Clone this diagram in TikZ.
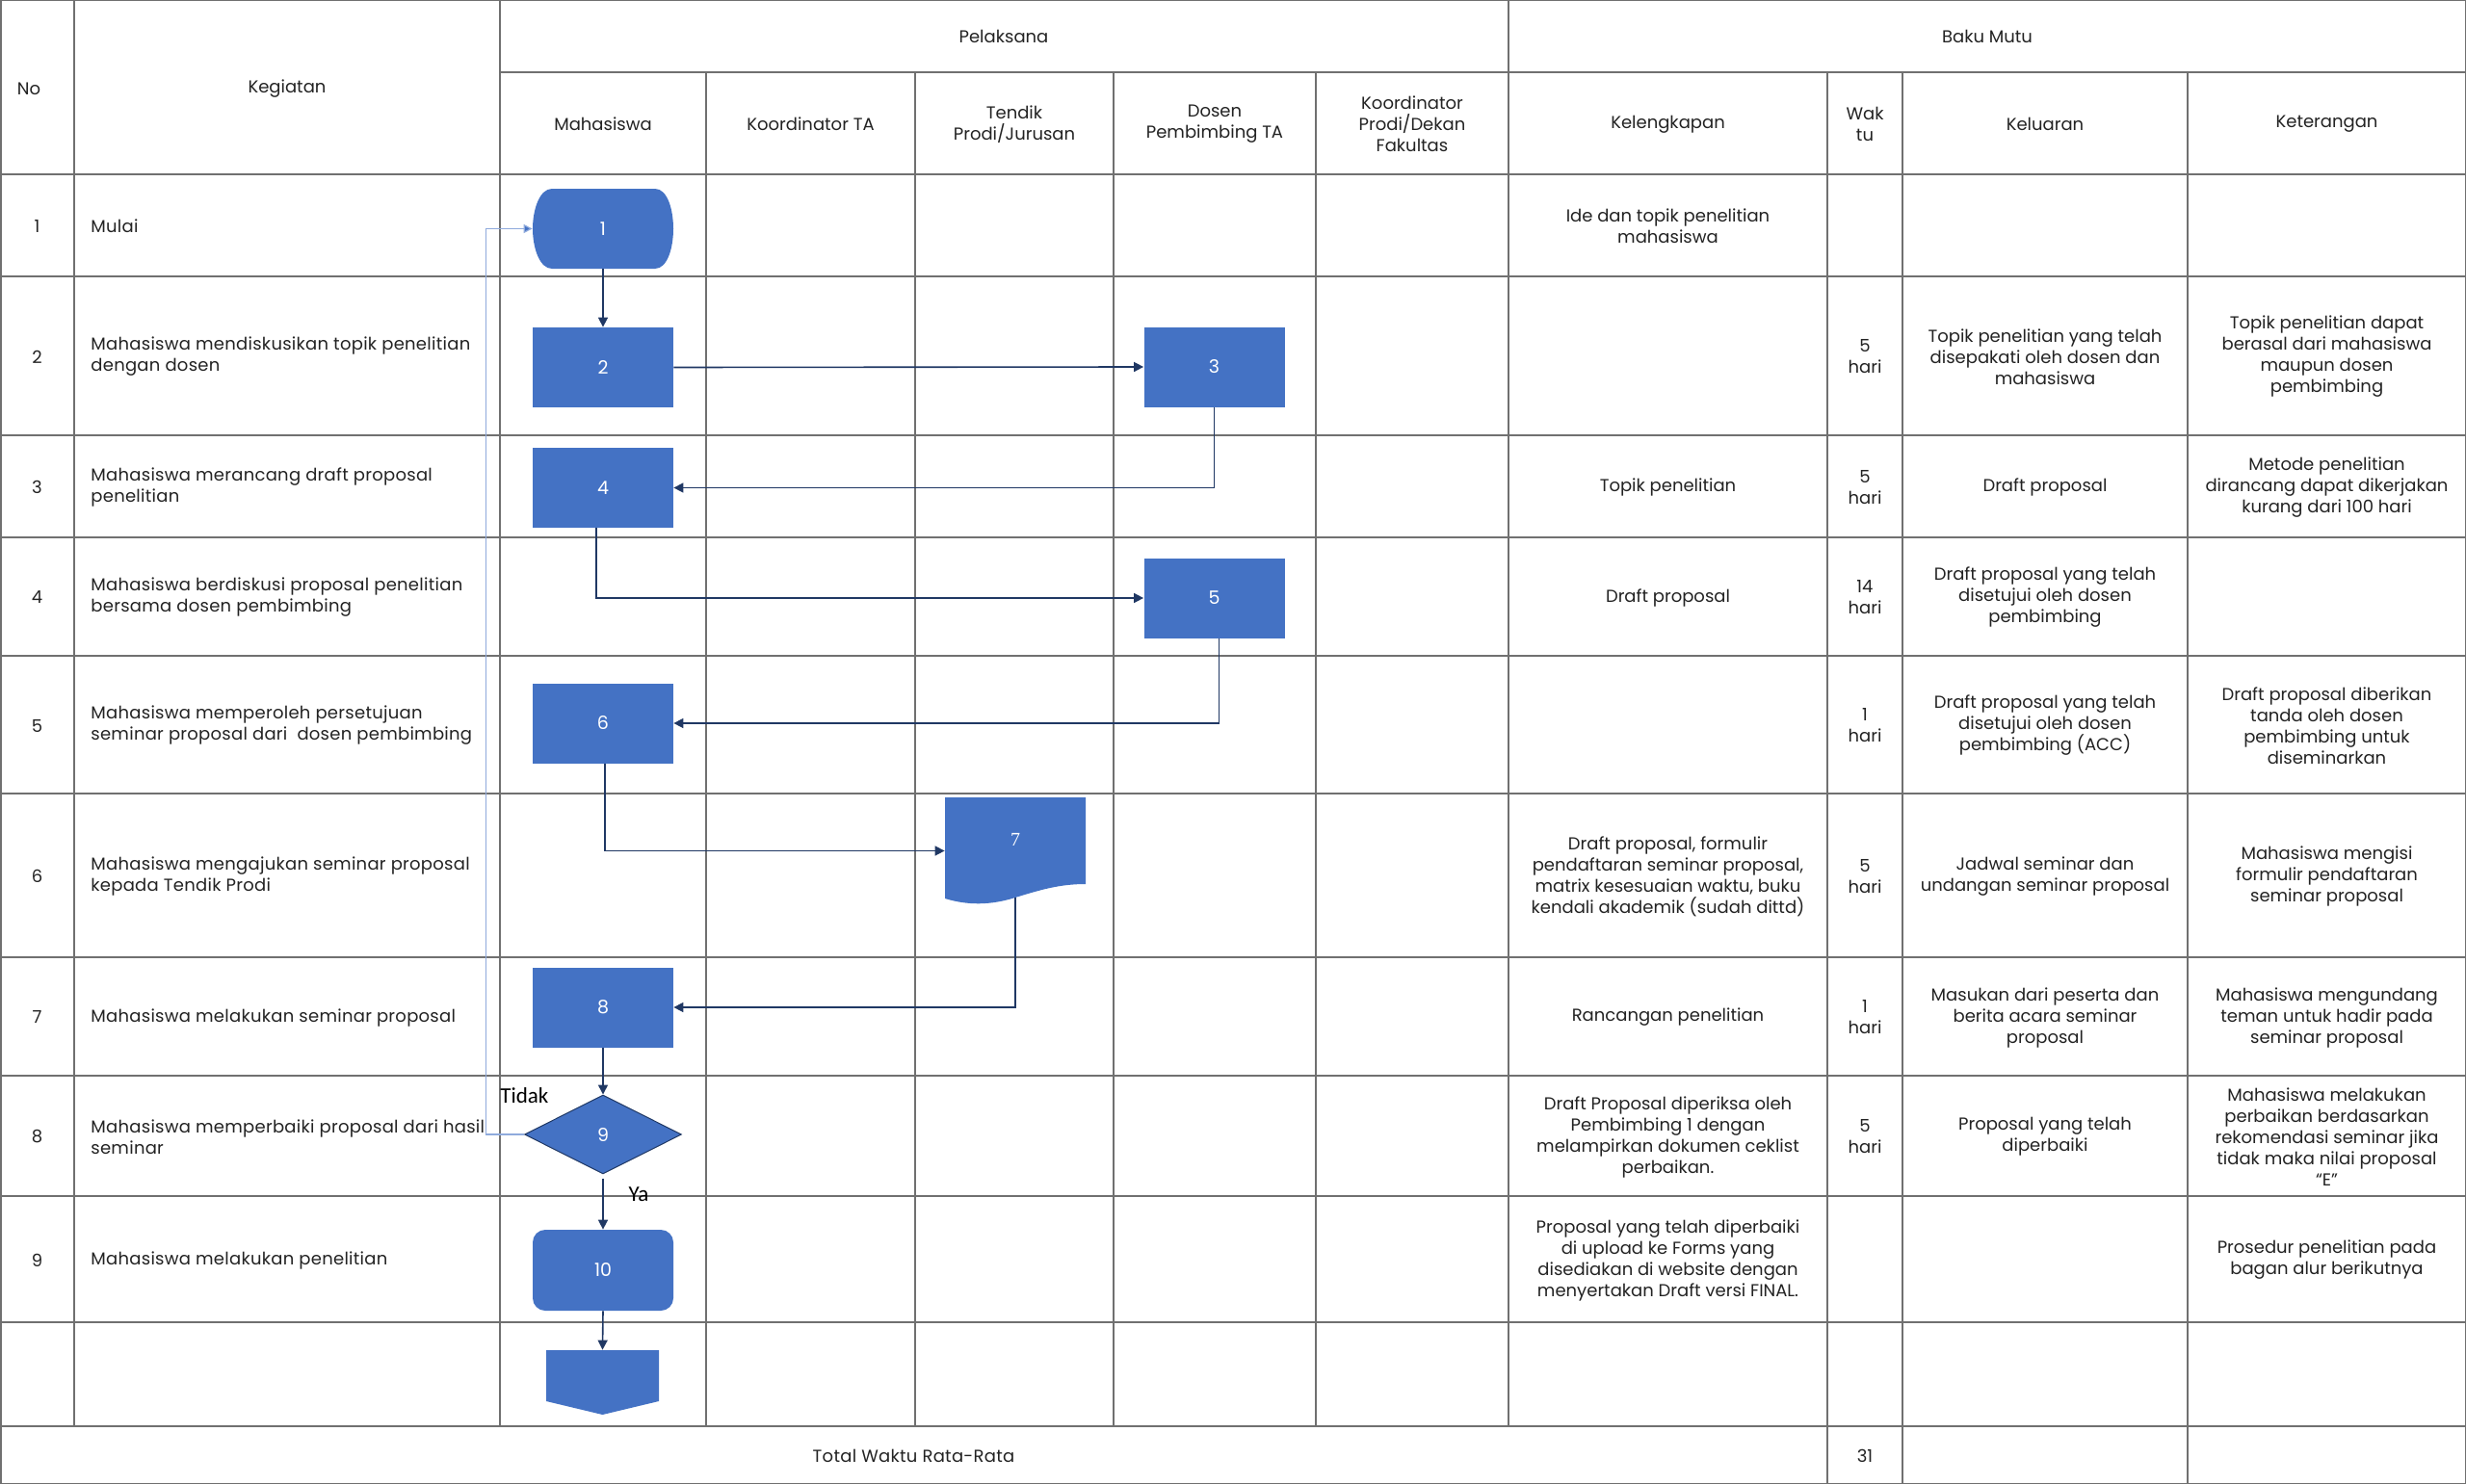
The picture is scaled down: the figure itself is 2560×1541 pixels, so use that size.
\documentclass[tikz,border=0pt]{standalone}
\usepackage{fontspec}
\setmainfont{Poppins}
\newfontfamily\kegfont{Poppins}[LetterSpace=1.5]
\newfontfamily\calfont{Carlito}
\newfontfamily\serfont{Liberation Serif}
\usetikzlibrary{arrows.meta,shapes.geometric}
\definecolor{gridc}{RGB}{112,112,112}
\definecolor{shp}{RGB}{68,114,196}
\definecolor{navy}{RGB}{32,56,100}
\definecolor{lblue}{RGB}{143,170,220}
\definecolor{txt}{RGB}{35,35,35}
\begin{document}
\begin{tikzpicture}[x=0.5pt,y=-0.5pt,
  cell/.style={align=center,inner sep=0pt,text=txt,font=\fontsize{9}{11}\selectfont},
  keg/.style={anchor=west,align=left,inner sep=0pt,text=txt,font=\kegfont\fontsize{9}{11}\selectfont},
  proc/.style={rectangle,fill=shp,minimum width=73pt,minimum height=41.5pt,inner sep=0pt,text=white,font=\fontsize{9.5}{11}\selectfont},
  ghost/.style={rectangle,minimum width=73pt,minimum height=41.5pt,inner sep=0pt,text=white,font=\fontsize{9.5}{11}\selectfont},
  link/.style={draw=navy,line width=0.8pt,-{Triangle[length=5pt,width=5pt]}},
  gridline/.style={draw=gridc,line width=1pt}]
\useasboundingbox (0,0) rectangle (2560,1541);
\fill[white] (0,0) rectangle (2560,1541);
% ---------- table grid ----------
\foreach \yy in {181,287,452,558,681,824,994,1117,1242,1373,1481}
  \draw[gridline] (0,\yy) -- (2560,\yy);
\draw[gridline] (519,75) -- (2560,75);
\draw[gridline] (0,0.5) -- (2560,0.5);
\draw[gridline] (0,1540.5) -- (2560,1540.5);
\draw[gridline] (0.5,0) -- (0.5,1541);
\draw[gridline] (2559.5,0) -- (2559.5,1541);
\foreach \xx in {77,519,1566}
  \draw[gridline] (\xx,0) -- (\xx,1481);
\foreach \xx in {733,950,1156,1366}
  \draw[gridline] (\xx,75) -- (\xx,1481);
\foreach \xx in {1897,1975,2271}
  \draw[gridline] (\xx,75) -- (\xx,1541);
% ---------- headers ----------
\node[cell] (hno) at (30,92) {No};
\node[cell] (hkeg) at (298,92) {Kegiatan};
\node[cell] (hpel) at (1042,38) {Pelaksana};
\node[cell] (hbaku) at (2063,38) {Baku Mutu};
\node[cell] (hmhs) at (626,129) {Mahasiswa};
\node[cell] (hkta) at (841.5,129) {Koordinator TA};
\node[cell] (htendik) at (1053,129) {Tendik\\Prodi/Jurusan};
\node[cell] (hdosen) at (1261,129) {Dosen\\Pembimbing TA};
\node[cell] (hkpd) at (1466,129) {Koordinator\\Prodi/Dekan\\Fakultas};
\node[cell] (hkel) at (1731.5,129) {Kelengkapan};
\node[cell] (hwak) at (1936,129) {Wak\\tu};
\node[cell] (hklr) at (2123,129) {Keluaran};
\node[cell] (hket) at (2415.5,129) {Keterangan};
% ---------- row numbers ----------
\foreach \n/\yy in {1/235,2/370.5,3/506,4/620.5,5/753.5,6/910,7/1056.5,8/1180.5,9/1308.5}
  \node[cell] (no\n) at (38.5,\yy) {\n};
% ---------- kegiatan ----------
\node[keg] (k1) at (94,235) {Mulai};
\node[keg] (k2) at (94,370.5) {Mahasiswa mendiskusikan topik penelitian\\dengan dosen};
\node[keg] (k3) at (94,506) {Mahasiswa merancang draft proposal\\penelitian};
\node[keg] (k4) at (94,620.5) {Mahasiswa berdiskusi proposal penelitian\\bersama dosen pembimbing};
\node[keg] (k5) at (94,753.5) {Mahasiswa memperoleh persetujuan\\seminar proposal dari\ \ dosen pembimbing};
\node[keg] (k6) at (94,910) {Mahasiswa mengajukan seminar proposal\\kepada Tendik Prodi};
\node[keg] (k7) at (94,1056.5) {Mahasiswa melakukan seminar proposal};
\node[keg] (k8) at (94,1180.5) {Mahasiswa memperbaiki proposal dari hasil\\seminar};
\node[keg] (k9) at (94,1308.5) {Mahasiswa melakukan penelitian};
\node[cell,font=\kegfont\fontsize{9}{11}\selectfont] (tot) at (948.5,1512) {Total Waktu Rata-Rata};
\node[cell] (tot31) at (1936,1512) {31};
% ---------- kelengkapan ----------
\node[cell] (kl1) at (1731.5,235) {Ide dan topik penelitian\\mahasiswa};
\node[cell] (kl3) at (1731.5,506) {Topik penelitian};
\node[cell] (kl4) at (1731.5,620.5) {Draft proposal};
\node[cell] (kl6) at (1731.5,910) {Draft proposal, formulir\\pendaftaran seminar proposal,\\matrix kesesuaian waktu, buku\\kendali akademik (sudah dittd)};
\node[cell] (kl7) at (1731.5,1056.5) {Rancangan penelitian};
\node[cell] (kl8) at (1731.5,1180.5) {Draft Proposal diperiksa oleh\\Pembimbing 1 dengan\\melampirkan dokumen ceklist\\perbaikan.};
\node[cell] (kl9) at (1731.5,1308.5) {Proposal yang telah diperbaiki\\di upload ke Forms yang\\disediakan di website dengan\\menyertakan Draft versi FINAL.};
% ---------- waktu ----------
\node[cell] (w2) at (1936,370.5) {5\\hari};
\node[cell] (w3) at (1936,506) {5\\hari};
\node[cell] (w4) at (1936,620.5) {14\\hari};
\node[cell] (w5) at (1936,753.5) {1\\hari};
\node[cell] (w6) at (1936,910) {5\\hari};
\node[cell] (w7) at (1936,1056.5) {1\\hari};
\node[cell] (w8) at (1936,1180.5) {5\\hari};
% ---------- keluaran ----------
\node[cell] (o2) at (2123,370.5) {Topik penelitian yang telah\\disepakati oleh dosen dan\\mahasiswa};
\node[cell] (o3) at (2123,506) {Draft proposal};
\node[cell] (o4) at (2123,620.5) {Draft proposal yang telah\\disetujui oleh dosen\\pembimbing};
\node[cell] (o5) at (2123,753.5) {Draft proposal yang telah\\disetujui oleh dosen\\pembimbing (ACC)};
\node[cell] (o6) at (2123,910) {Jadwal seminar dan\\undangan seminar proposal};
\node[cell] (o7) at (2123,1056.5) {Masukan dari peserta dan\\berita acara seminar\\proposal};
\node[cell] (o8) at (2123,1180.5) {Proposal yang telah\\diperbaiki};
% ---------- keterangan ----------
\node[cell] (t2) at (2415.5,370.5) {Topik penelitian dapat\\berasal dari mahasiswa\\maupun dosen\\pembimbing};
\node[cell] (t3) at (2415.5,506) {Metode penelitian\\dirancang dapat dikerjakan\\kurang dari 100 hari};
\node[cell] (t5) at (2415.5,753.5) {Draft proposal diberikan\\tanda oleh dosen\\pembimbing untuk\\diseminarkan};
\node[cell] (t6) at (2415.5,910) {Mahasiswa mengisi\\formulir pendaftaran\\seminar proposal};
\node[cell] (t7) at (2415.5,1056.5) {Mahasiswa mengundang\\teman untuk hadir pada\\seminar proposal};
\node[cell] (t8) at (2415.5,1180.5) {Mahasiswa melakukan\\perbaikan berdasarkan\\rekomendasi seminar jika\\tidak maka nilai proposal\\“E”};
\node[cell] (t9) at (2415.5,1308.5) {Prosedur penelitian pada\\bagan alur berikutnya};
% ---------- flow shapes ----------
\fill[shp] (573,196) -- (680,196) .. controls (693,196) and (699,218) .. (699,237.5)
  .. controls (699,257) and (693,279) .. (680,279) -- (573,279)
  .. controls (560,279) and (553,257) .. (553,237.5)
  .. controls (553,218) and (560,196) .. (573,196) -- cycle;
\node[ghost] (n1) at (626,237.5) {1};
\node[proc] (n2) at (626,381.5) {2};
\node[proc] (n3) at (1260.5,381) {3};
\node[proc] (n4) at (626,506.5) {4};
\node[proc] (n5) at (1260.5,621) {5};
\node[proc] (n6) at (626,751) {6};
\fill[shp] (981,828) -- (1127,828) -- (1127,918) .. controls (1100,918) and (1080,924) .. (1054,932)
  .. controls (1035,938) and (1010,942) .. (981,933) -- cycle;
\node[ghost,minimum height=55.5pt] (n7) at (1054,883.5) {};
\node[text=white,inner sep=0pt,font=\serfont\fontsize{10}{11}\selectfont] (n7t) at (1054,872) {7};
\node[proc] (n8) at (626,1046) {8};
\node[diamond,fill=shp,draw=navy,line width=0.5pt,minimum width=81.5pt,minimum height=41pt,inner sep=0pt,aspect=2,text=white,font=\fontsize{9.5}{11}\selectfont] (n9) at (626,1178) {9};
\node[proc,rounded corners=6.5pt,minimum height=42pt] (n10) at (626,1319) {10};
\fill[shp] (567,1402) -- (684,1402) -- (684,1455) -- (625.5,1469) -- (567,1455) -- cycle;
\node[rectangle,minimum width=58.5pt,minimum height=33.5pt,inner sep=0pt] (n11) at (625.5,1435.5) {};
% ---------- connectors ----------
\draw[link] (n1.south) -- (n2.north);
\draw[link] (n2.east) -- (n3.west);
\draw[link] (n3.south) |- (n4.east);
\draw[link] ([xshift=-3.5pt]n4.south) |- (n5.west);
\draw[link] ([xshift=2.5pt]n5.south) |- (n6.east);
\draw[link] ([xshift=1pt]n6.south) |- (n7.west);
\draw[link] ([yshift=3.5pt]n7.south) |- (n8.east);
\draw[link] (n8.south) -- (n9.north);
\draw[link] ([yshift=-2pt]n9.south) -- (n10.north);
\draw[link] (n10.south) -- (n11.north);
\coordinate (tk) at (504.5,1178);
\draw[draw=lblue,line width=0.6pt,-{Triangle[length=4.5pt,width=4.5pt,fill=shp]}] (n9.west) -- (tk) |- (n1.west);
\node[anchor=west,inner sep=0pt,font=\calfont\fontsize{11.5}{12}\selectfont] (tidak) at (519,1138) {Tidak};
\node[inner sep=0pt,font=\calfont\fontsize{11.5}{12}\selectfont] (ya) at (663,1240) {Ya};
\end{tikzpicture}
\end{document}
